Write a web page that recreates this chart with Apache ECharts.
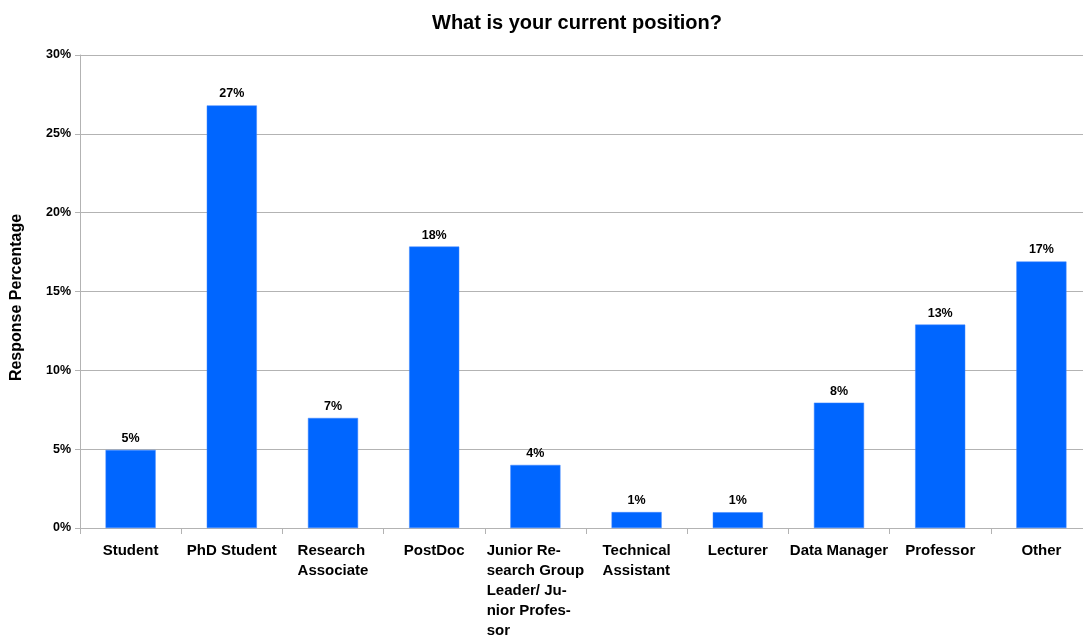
<!DOCTYPE html>
<html>
<head>
<meta charset="utf-8">
<script src="https://cdn.jsdelivr.net/npm/echarts@6/dist/echarts.min.js"></script>
<style>html,body{margin:0;padding:0;background:#fff}#c{width:1083px;height:635px}</style>
</head>
<body>
<div id="c"></div>
<script>
const categories = ["Student", "PhD Student", "Research\nAssociate", "PostDoc", "Junior Re-\nsearch Group\nLeader/ Ju-\nnior Profes-\nsor", "Technical\nAssistant", "Lecturer", "Data Manager", "Professor", "Other"];
const values = [4.95, 26.8, 6.98, 17.85, 4.0, 1.01, 1.0, 7.95, 12.9, 16.9];
const yTicks = [0, 5, 10, 15, 20, 25, 30];

const chart = echarts.init(document.getElementById('c'), null, {renderer: 'canvas'});
const font = '"Liberation Sans", Arial, sans-serif';
chart.setOption({
  animation: false,
  backgroundColor: '#ffffff',
  title: {
    text: 'What is your current position?',
    left: 427, top: 8,
    textStyle: {fontFamily: font, fontSize: 20, fontWeight: 'bold', color: '#000'}
  },
  grid: {left: 80, right: -9, top: 55, bottom: 107, containLabel: false, outerBoundsMode: 'none'},
  xAxis: {
    type: 'category',
    data: categories,
    axisLine: {show: true, lineStyle: {color: '#b3b3b3', width: 1}},
    axisTick: {show: true, alignWithLabel: false, length: 6, lineStyle: {color: '#b3b3b3'}},
    axisLabel: {
      interval: 0, margin: 13,
      fontFamily: font, fontSize: 15, fontWeight: 'bold', color: '#000', lineHeight: 20,
      formatter: function (v) {
        return v.split('\n').map(s => '{l|' + s + '}').join('\n');
      },
      rich: {l: {align: 'left', fontFamily: font, fontSize: 15, fontWeight: 'bold', color: '#000', lineHeight: 20}}
    }
  },
  yAxis: {
    type: 'value',
    min: yTicks[0], max: yTicks[yTicks.length - 1], interval: 5,
    name: 'Response Percentage',
    nameLocation: 'middle', nameGap: 55, nameRotate: 90,
    nameTextStyle: {fontFamily: font, fontSize: 16, fontWeight: 'bold', color: '#000', letterSpacing: 1.4, padding: [0, 12, 0, 0]},
    axisLine: {show: true, lineStyle: {color: '#b3b3b3', width: 1}},
    axisTick: {show: true, length: 5, lineStyle: {color: '#b3b3b3'}},
    axisLabel: {
      fontFamily: font, fontSize: 12.5, fontWeight: 'bold', color: '#000', margin: 9,
      formatter: v => v + '%'
    },
    splitLine: {show: true, lineStyle: {color: '#b3b3b3', width: 1}}
  },
  series: [{
    type: 'bar',
    data: values,
    barWidth: '49.5%',
    itemStyle: {color: '#0066ff', borderColor: '#3d85ff', borderWidth: 0.5},
    label: {
      show: true, position: 'top', distance: 5,
      fontFamily: font, fontSize: 12.5, fontWeight: 'bold', color: '#000',
      formatter: p => Math.round(p.value) + '%'
    }
  }]
});
</script>
</body>
</html>
